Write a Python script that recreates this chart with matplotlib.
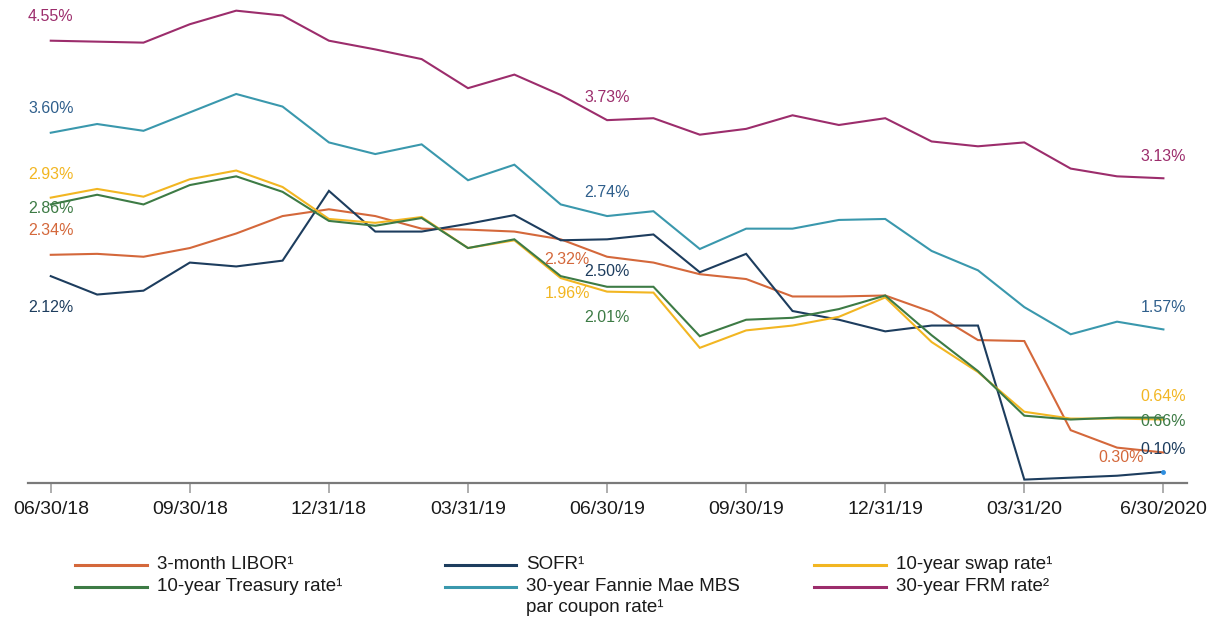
import matplotlib
matplotlib.use("Agg")
import matplotlib.pyplot as plt
from matplotlib.lines import Line2D

plt.rcParams['font.family'] = ['Liberation Sans', 'DejaVu Sans']

# Month-end observations, 06/30/18 .. 06/30/20
tick_idx = [0, 3, 6, 9, 12, 15, 18, 21, 24]
tick_labels = ['06/30/18', '09/30/18', '12/31/18', '03/31/19', '06/30/19',
               '09/30/19', '12/31/19', '03/31/20', '6/30/2020']

libor = [2.34, 2.35, 2.32, 2.41, 2.56, 2.74, 2.81, 2.74, 2.61, 2.60, 2.58, 2.50,
         2.32, 2.26, 2.14, 2.09, 1.91, 1.91, 1.92, 1.75, 1.46, 1.45, 0.53, 0.35, 0.30]
sofr = [2.12, 1.93, 1.97, 2.26, 2.22, 2.28, 3.00, 2.58, 2.58, 2.66, 2.75, 2.49,
        2.50, 2.55, 2.16, 2.35, 1.76, 1.67, 1.55, 1.61, 1.61, 0.02, 0.04, 0.06, 0.10]
swap = [2.93, 3.02, 2.94, 3.12, 3.21, 3.04, 2.71, 2.67, 2.73, 2.41, 2.49, 2.10,
        1.96, 1.95, 1.38, 1.56, 1.61, 1.70, 1.90, 1.44, 1.13, 0.72, 0.65, 0.65, 0.64]
treasury = [2.86, 2.96, 2.86, 3.06, 3.15, 2.99, 2.69, 2.64, 2.72, 2.41, 2.50, 2.12,
            2.01, 2.01, 1.50, 1.67, 1.69, 1.78, 1.92, 1.51, 1.14, 0.68, 0.64, 0.66, 0.66]
mbs = [3.60, 3.69, 3.62, 3.81, 4.00, 3.87, 3.50, 3.38, 3.48, 3.11, 3.27, 2.86,
       2.74, 2.79, 2.40, 2.61, 2.61, 2.70, 2.71, 2.38, 2.18, 1.80, 1.52, 1.65, 1.57]
frm = [4.55, 4.54, 4.53, 4.72, 4.86, 4.81, 4.55, 4.46, 4.36, 4.06, 4.20, 3.99,
       3.73, 3.75, 3.58, 3.64, 3.78, 3.68, 3.75, 3.51, 3.46, 3.50, 3.23, 3.15, 3.13]

x = list(range(len(libor)))

C_LIBOR = '#d4683b'
C_SOFR = '#1d3d5e'
C_SWAP = '#f2b622'
C_TSY = '#3d7b45'
C_MBS = '#3a98ad'
C_FRM = '#9c2d6c'
C_MBS_TXT = '#2f5f8c'

# (values, line colour, label colour)
series = [
    (libor, C_LIBOR, C_LIBOR),
    (sofr, C_SOFR, C_SOFR),
    (swap, C_SWAP, C_SWAP),
    (treasury, C_TSY, C_TSY),
    (mbs, C_MBS, C_MBS_TXT),
    (frm, C_FRM, C_FRM),
]

fig = plt.figure(figsize=(12.14, 6.23), dpi=100)
ax = fig.add_axes([0.0231, 0.2252, 0.9547, 0.7748])

for vals, col, _ in series:
    ax.plot(x, vals, color=col, lw=1.5, solid_joinstyle='miter')
ax.plot([x[-1]], [sofr[-1]], marker='o', ms=2.5, color='#2f8fe0', lw=0)

# value labels: (series index, point index, dx px, dy px)
label_spots = [
    (5, 0, 0, 24), (4, 0, 0, 24), (2, 0, 0, 23), (3, 0, 0, -4), (0, 0, 0, 24), (1, 0, 0, -31),
    (5, 12, 0, 23), (4, 12, 0, 24), (0, 12, -40, -3), (1, 12, 0, -32), (2, 12, -40, -2), (3, 12, 0, -31),
    (5, 24, 0, 22), (4, 24, 0, 22), (2, 24, 0, 23), (3, 24, 0, -4), (1, 24, 0, 22), (0, 24, -42, -5),
]
for si, pi, dx, dy in label_spots:
    vals, _, tcol = series[si]
    ax.annotate(f"{vals[pi]:.2f}%", (x[pi], vals[pi]), xytext=(dx, dy),
                textcoords='offset pixels', ha='center', va='center',
                fontsize=11.5, color=tcol)

ax.set_xlim(-0.49, 24.51)
ax.set_ylim(-0.012, 4.97)
ax.set_xticks(tick_idx)
ax.set_xticklabels(tick_labels)
ax.set_yticks([])
for s in ['top', 'right', 'left']:
    ax.spines[s].set_visible(False)
ax.spines['bottom'].set_color('#7a7a7a')
ax.spines['bottom'].set_linewidth(1.6)
ax.tick_params(axis='x', length=7, width=1.2, color='#a0a0a0', labelsize=14,
               labelcolor='#1a1a1a', pad=6)

# legend drawn by hand in three columns
legend_rows = [0.0931, 0.0583, 0.0241]
legend_items = [
    ('3-month LIBOR¹', C_LIBOR, 0, 0),
    ('10-year Treasury rate¹', C_TSY, 0, 1),
    ('SOFR¹', C_SOFR, 1, 0),
    ('30-year Fannie Mae MBS', C_MBS, 1, 1),
    ('10-year swap rate¹', C_SWAP, 2, 0),
    ('30-year FRM rate²', C_FRM, 2, 1),
]
col_x = [(75, 147, 157), (445, 516, 526), (814, 886, 896)]
W = 1214.0
for text, col, c, r in legend_items:
    x0, x1, xt = col_x[c]
    y = legend_rows[r]
    fig.add_artist(Line2D([x0 / W, x1 / W], [y, y], color=col, lw=2.2,
                          transform=fig.transFigure))
    fig.text(xt / W, y, text, fontsize=13.5, color='#1a1a1a', va='center', ha='left')
fig.text(col_x[1][2] / W, legend_rows[2], 'par coupon rate¹', fontsize=13.5,
         color='#1a1a1a', va='center', ha='left')

fig.savefig('out.png', dpi=100)
